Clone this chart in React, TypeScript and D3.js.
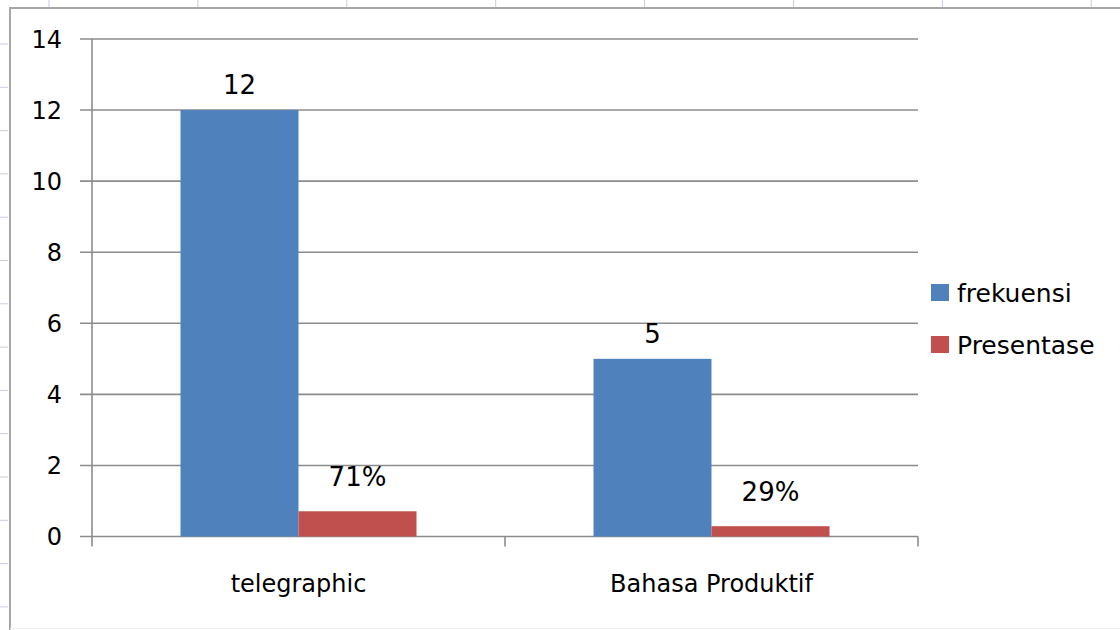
import * as d3 from "d3";
import React, {useEffect, useRef} from "react";

const categories = ["telegraphic", "Bahasa Produktif"];
const seriesNames = ["frekuensi", "Presentase"];
const frekuensi = [12, 5];
const presentase = [0.71, 0.29];
const presentaseLabels = ["71%", "29%"];
const yTicks = [0, 2, 4, 6, 8, 10, 12, 14];

const colors = ["#4F81BD", "#C0504D"];
const FONT = "'DejaVu Sans', Verdana, sans-serif";

const App = () => {
    const ref = useRef(null);

    useEffect(() => {
        const svg = d3.select(ref.current);
        svg.selectAll("*").remove();

        const width = 1120, height = 630;
        const plot = {left: 92, right: 918, top: 39, bottom: 536.5};

        svg.append("rect").attr("width", width).attr("height", height).attr("fill", "white");

        // spreadsheet cell lines peeking out behind the chart
        const rowLines = d3.range(44, 630, 43.3);
        svg.append("g").selectAll("line").data(rowLines).join("line")
            .attr("x1", 0).attr("x2", 8)
            .attr("y1", d => d).attr("y2", d => d)
            .attr("stroke", "#c9cde0").attr("stroke-width", 1);
        const colLines = d3.range(49, 1120, 148.9);
        svg.append("g").selectAll("line").data(colLines).join("line")
            .attr("x1", d => d).attr("x2", d => d)
            .attr("y1", 0).attr("y2", 7)
            .attr("stroke", "#c9cde0").attr("stroke-width", 1);

        // chart frame
        svg.append("path")
            .attr("d", `M10,${height + 2} L10,8 L${width + 2},8`)
            .attr("fill", "none").attr("stroke", "#a6a6a6").attr("stroke-width", 2);
        svg.append("line")
            .attr("x1", 10).attr("x2", width).attr("y1", 628.5).attr("y2", 628.5)
            .attr("stroke", "#f0f0f0").attr("stroke-width", 1);

        const x = d3.scaleBand()
            .domain(categories)
            .range([plot.left, plot.right]);
        // Excel gap width 150%: bar = band / 3.5
        const barW = x.bandwidth() / 3.5;
        const gap = (x.bandwidth() - 2 * barW) / 2;

        const y = d3.scaleLinear()
            .domain([0, 14])
            .range([plot.bottom, plot.top]);

        // gridlines + y ticks
        const grid = svg.append("g");
        grid.selectAll("line").data(yTicks).join("line")
            .attr("x1", plot.left - 12).attr("x2", plot.right)
            .attr("y1", d => y(d)).attr("y2", d => y(d))
            .attr("stroke", "#8c8c8c").attr("stroke-width", 1.6);
        svg.append("g").selectAll("text").data(yTicks).join("text")
            .attr("x", 62).attr("y", d => y(d))
            .attr("dy", "0.36em")
            .attr("text-anchor", "end")
            .attr("font-family", FONT).attr("font-size", 24)
            .attr("fill", "#000")
            .text(d => d);

        // y axis line
        svg.append("line")
            .attr("x1", plot.left).attr("x2", plot.left)
            .attr("y1", plot.top).attr("y2", plot.bottom + 10)
            .attr("stroke", "#8c8c8c").attr("stroke-width", 1.6);

        // x tick marks between categories
        const xTicks = categories.map(c => x(c) + x.bandwidth());
        svg.append("g").selectAll("line").data(xTicks).join("line")
            .attr("x1", d => d).attr("x2", d => d)
            .attr("y1", plot.bottom).attr("y2", plot.bottom + 10)
            .attr("stroke", "#8c8c8c").attr("stroke-width", 1.6);

        const series = [frekuensi, presentase];
        const labels = [frekuensi.map(String), presentaseLabels];
        const labelGap = [16, 25];

        series.forEach((vals, s) => {
            const g = svg.append("g");
            g.selectAll("rect").data(vals).join("rect")
                .attr("x", (d, i) => x(categories[i]) + gap + s * barW)
                .attr("y", d => y(d))
                .attr("width", barW)
                .attr("height", d => y(0) - y(d))
                .attr("fill", colors[s]);
            g.selectAll("text").data(vals).join("text")
                .attr("x", (d, i) => x(categories[i]) + gap + s * barW + barW / 2)
                .attr("y", d => y(d) - labelGap[s])
                .attr("text-anchor", "middle")
                .attr("font-family", FONT).attr("font-size", 26)
                .attr("fill", "#000")
                .text((d, i) => labels[s][i]);
        });

        // category labels
        svg.append("g").selectAll("text").data(categories).join("text")
            .attr("x", d => x(d) + x.bandwidth() / 2)
            .attr("y", 592)
            .attr("text-anchor", "middle")
            .attr("font-family", FONT).attr("font-size", 24)
            .attr("fill", "#000")
            .text(d => d);

        // legend
        const legend = svg.append("g");
        seriesNames.forEach((name, i) => {
            const ly = 293 + i * 52;
            legend.append("rect")
                .attr("x", 931).attr("y", ly - 9)
                .attr("width", 18).attr("height", 17)
                .attr("fill", colors[i]);
            legend.append("text")
                .attr("x", 957).attr("y", ly)
                .attr("dy", "0.36em")
                .attr("font-family", FONT).attr("font-size", 25)
                .attr("fill", "#000")
                .text(name);
        });
    }, []);

    return (
        <svg ref={ref} width={1120} height={630}
             style={{position: "absolute", left: 0, top: 0}}/>
    );
};

export default App;
